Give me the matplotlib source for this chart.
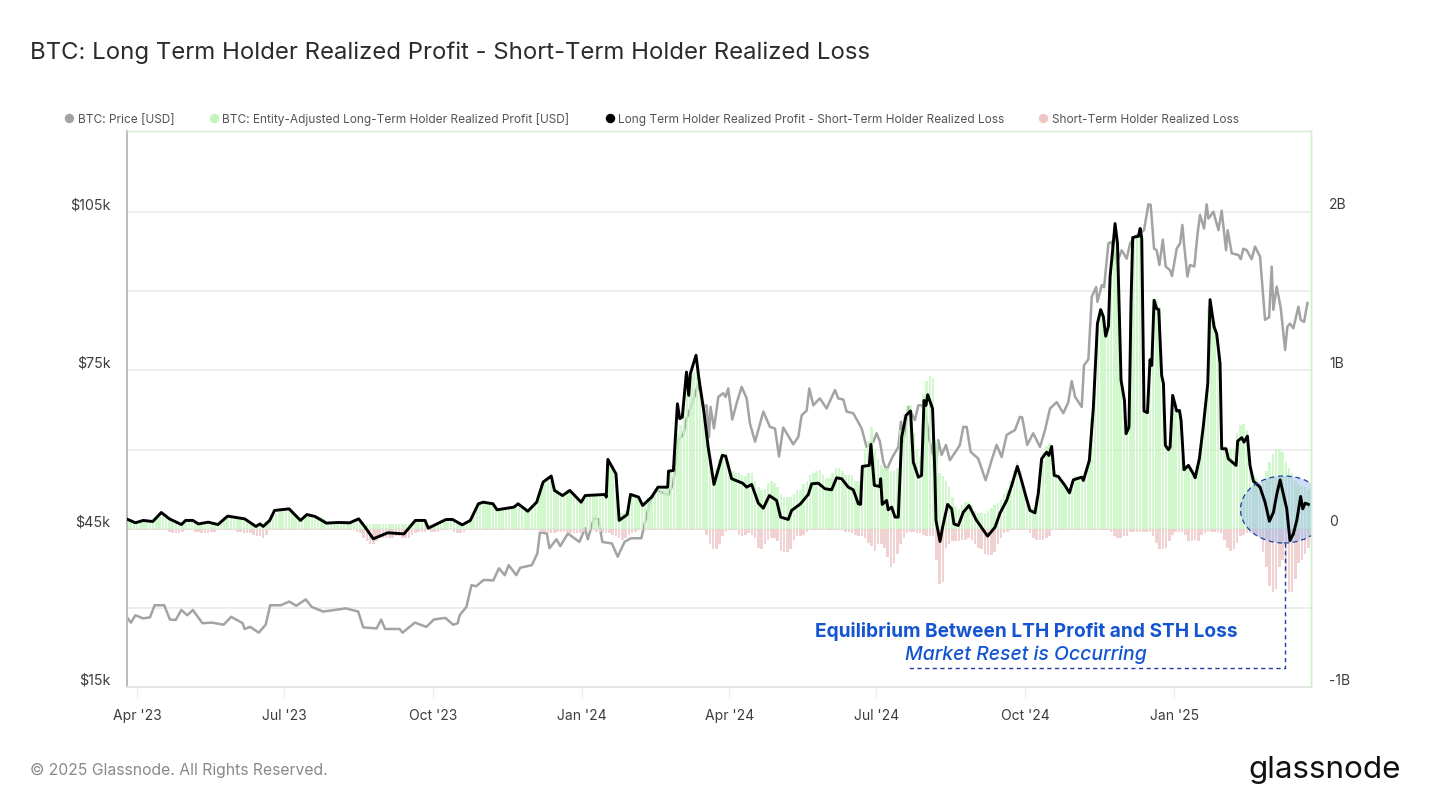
import numpy as np
import matplotlib
matplotlib.use("Agg")
import matplotlib.pyplot as plt
import matplotlib.dates as mdates
from matplotlib.lines import Line2D
from matplotlib.patches import Ellipse
from matplotlib.transforms import ScaledTranslation

plt.rcParams['font.family'] = ['Inter', 'DejaVu Sans']

# days are counted from 1 Apr 2023
price_days = [-5.7,-3.8,-1,3.8,8,10.9,16.8,20.3,23.9,27.4,31,34.5,40.4,46.4,53.5,58.2,65.3,66.5,70,75.2,79.5,82.3,88.9,94.1,98.4,104.3,107.9,115,129.1,136.7,139.8,148.1,150.9,153.3,162.3,164.1,171.7,178.8,183.5,190.6,195.4,198.2,199.4,203.6,206.7,209.6,214.3,220.2,223.7,227.3,229.7,234.4,236.8,244,247.4,249,253.3,254.9,259.2,261.6,266.3,273.4,277,278.6,282.4,285.2,287.6,293.5,297.1,301.3,305.3,311.7,314.8,317,321.1,328.4,331.4,334.5,337.6,339.7,344.8,346.9,350,352,353.5,354.5,356.6,359.3,362.3,363.8,365.4,367.9,370.6,373.7,376.8,378.8,382,387.1,391.2,394.3,396.8,399.4,405.6,408.7,410.8,413.9,415.5,418,421,422.1,426.2,431.4,433.4,436.5,438.6,442.7,447.9,450.9,455.1,457.1,459.2,461.2,463.3,466.4,470.5,472.2,473.6,476.7,480.8,482.9,485.4,488,489.7,493.8,495.2,497.3,500,502.4,506.6,508.6,510.7,512.8,515.2,519.9,524.5,528.2,531.3,534.4,537.5,542.6,545.7,547.1,550.2,553.9,558.1,561.2,564.3,568.4,572.5,575.6,577.7,579.8,583.9,585.3,588,590.1,592.8,593.6,596.3,597.7,600.4,602.4,605.5,608.6,611.7,613.8,616.9,620,622.4,625.1,626.5,628.6,630.2,631.9,634,635.8,638.5,639.7,642.6,644.7,646.1,647.1,649.2,650.8,653.5,655.4,657,659.5,661.1,662.2,665.3,668.4,670.4,673.1,674.1,676.6,680.7,682.2,683.8,685.9,688.9,691,694.1,697.2,699.7,701.3,702.3,704.4,706.9,709.6,711,712.6,714.7,717.8,719.2,721.3,723.4]
price_k = [28,27.2,28.6,28,28.2,30.5,30.5,27.8,27.7,29.6,28.6,29.6,27.1,27.2,26.8,28.3,27.1,26,26.4,25.3,26.8,30.5,30.5,31.2,30.4,31.6,30.2,29.3,29.9,29.3,26.3,26.1,27.8,26,26,25.3,27.2,26.4,27.8,28.1,26.8,27.1,28.6,30.2,34.3,34.1,35.3,35.2,37.5,36.2,38.1,36.2,37.6,38.1,40.3,44.3,44.1,41.3,43,41.7,44.1,42.5,45.1,43,47,46.8,42.5,42.2,39.7,42.5,43.2,43.2,47.3,50.1,52.3,51.4,53.6,61.8,62.8,65.9,70.3,72.5,68.1,68.4,62.4,68.1,64,70,70.7,70,71.6,65.7,68.8,71.9,69.7,65,61.5,67.2,64.3,64,58.7,64.2,61,62.4,66.5,67.4,71.6,68.4,69.4,69.7,67.8,71.3,69.7,69.5,67.2,66.9,64,60.5,61.5,63.1,61.5,57.7,56.1,58.3,60.5,65.3,61.5,68.1,65.6,68.4,68.4,65.6,61.8,56.8,61.8,59,60.9,58,59.9,60.9,64.3,64.3,59.6,58.3,54.2,58,60.9,58.6,62.8,63.7,66.2,66.1,60.9,63.1,60.5,63.7,67.8,69,66.9,69,73,70,68.1,76,77.1,89,90.8,88,91.2,90.8,99.1,99.4,95.3,97.8,96.2,99.1,100.4,101,101.6,106.5,106.4,98.1,97.8,95,99.8,94.7,94,92.9,98.1,99.1,102.6,99.1,92.8,95,94.7,100.7,104.5,101.9,106.5,103.8,105.1,101.6,105.3,97.8,101.6,97.2,96.9,96.1,98.1,97.8,96.1,98.5,96.6,84.6,85.1,94.7,86.5,90.9,86.8,78.9,83.3,83.9,83,87.1,84.6,84.2,87.8]

net_days = [-5.7,-1,3.8,9.7,15,20,27.4,30,34.5,38,44,50,56,66.5,73.5,76,78,82,85,94,101,105,110,117,124,131.5,137,141,146,155,165,172,178,180,191,195,201,206,211,214,220,222.5,233,235.5,241.5,247,251,256,258,263,267.5,274.5,277,289.5,290,291,296,298,303,305,310,312.5,318,322,328,328.5,331.5,334,335.4,337,339.6,341,342,345.5,347.3,350.4,353,356.6,359.9,361.7,363.8,367.5,374.3,376.8,379.9,384,387.1,390.8,395.3,397.8,402.5,404.6,410.1,414.9,417,421,425.2,429.3,432.4,435.5,439.6,442.7,445.8,447.2,448.3,452.6,453.6,455.7,459.2,459.6,460.6,463.3,464.3,466.4,468.5,470.5,472.6,475.3,478.1,479.8,482.9,484.9,486.4,487.6,488.7,491.7,493.2,493.8,496.3,497.9,501,503.5,504.9,507.6,510.7,514.2,518.9,525.7,530.3,533.4,537.5,540.6,544.1,546.7,549.8,551.9,555,557,559.1,562.2,563.6,565.3,566.9,569.4,573.5,576.3,578.7,583.9,584.9,588.6,591.1,592.1,593.6,595.6,597.3,598.7,600.4,601.4,602.8,604.5,606,608.2,610.3,611.3,613.1,614.4,615.4,619,620,621,622.4,624.5,626.1,627.2,628.6,630.2,631.5,633.3,634.4,635.6,637.5,638.5,640.1,642.6,644.3,645.3,647.1,649.8,652.9,654,656.6,659.1,661.8,663.2,665.7,667.3,669.4,670.4,673.1,674.5,679.3,680.3,682.8,684.2,686.3,687.9,690,694.1,697.2,699.9,702.4,704.5,706.5,708.5,710.6,712.6,714.7,716.8,719.2,720.5,722,724]
net_b = [.057,.036,.051,.044,.101,.061,.025,.051,.051,.029,.04,.025,.078,.061,.013,.029,.013,.051,.114,.124,.051,.088,.076,.034,.038,.036,.061,.008,-.065,-.027,-.034,.051,.051,.002,.057,.057,.023,.051,.156,.166,.156,.118,.135,.156,.109,.166,.293,.331,.24,.208,.24,.166,.208,.215,.198,.436,.345,.051,.088,.215,.198,.145,.198,.261,.261,.362,.366,.787,.693,.703,.987,.84,.977,1.093,.945,.735,.514,.278,.398,.461,.457,.314,.286,.261,.278,.16,.128,.208,.177,.072,.057,.114,.156,.215,.282,.286,.251,.244,.32,.314,.261,.244,.156,.152,.392,.398,.531,.272,.265,.314,.152,.177,.118,.135,.072,.072,.577,.714,.741,.419,.324,.335,.808,.777,.844,.756,.324,.051,-.082,.008,.152,.124,.029,.019,.103,.145,.051,-.048,.008,.097,.177,.272,.392,.303,.187,.114,.099,.219,.44,.482,.461,.518,.335,.328,.272,.225,.307,.324,.303,.429,.766,.977,1.293,1.381,1.335,1.213,1.276,1.587,1.735,1.924,1.798,.935,.808,.598,.64,1.44,1.836,1.844,1.893,1.829,.741,.731,1.065,1.029,1.44,1.387,1.381,.966,.914,.524,.497,.514,.84,.741,.745,.682,.371,.398,.345,.32,.44,.651,.914,1.444,1.272,1.229,1.04,.503,.503,.44,.398,.552,.573,.545,.583,.398,.299,.261,.166,.046,.103,.219,.307,.219,.124,-.076,-.034,.051,.202,.124,.16,.152]

# two-day bars, in hundredths of a billion USD
lth_profit_cb = [6,5,4,5,5,5,5,5,5,7,
 10,10,8,7,5,4,3,4,5,5, 5,5,3,3,4,4,4,3,3,5, 7,8,8,7,7,6,6,5,4,3, 3,3,3,5,6,7,9,11,11,12,
 12,11,9,7,6,7,9,8,8,8, 7,6,5,4,5,5,5,5,4,5, 6,5,4,2,3,3,3,3,3,3, 3,3,3,3,3,3,3,3,3,5,
 5,5,5,3,2,2,2,3,4,6, 6,5,4,3,3,4,5,10,15,16, 17,16,16,16,13,12,12,12,13,13,
 15,15,13,11,12,14,16,22,28,30, 32,30,26,25,22,22,24,23,22,20, 17,20,21,21,21,21,21,21,24,
 42,40,35,10,10,11,15,22,20,20, 17,17,19,21,25,27,27,27,27,36, 38,60,65,80,90,95,98,100,95,80,
 60,45,35,38,44,48,47,42,36,35, 35,34,33,35,35,30,26,24,25,29, 30,29,26,22,20,20,20,22,24,24,
 28,30,34,35,36,37,34,32,32,35, 38,38,36,34,34,34,30,30,40,50, 55,64,50,44,40,38,38,36,36,38,
 62,72,77,78,60,50,45,85,93,96, 95,
 55,35,33,30,26,20,14,12,15,17, 17,15,11,10,10,10,11,13,15,16, 18,22,25,30,37,42,36,26,20,15,
 13,20,38,48,52,54,42,34,33,29, 27,25,30,33,33,31,36,43,70,100, 130,138,125,130,170,190,175,100,80,65,
 140,184,184,185,80,75,105,140,145,140, 95,55,52,85,80,75,45,40,40,37, 34,42,58,75,140,140,130,115,55,52,
 48,50,50,60,65,66,62,42,34,32, 28,30,36,42,47,50,50,48,42,38, 35,30,28,27,26,25]
sth_loss_cb = [1,1,1,1,1,1,1,1,1,1,
 1,1,1,2,3,3,3,2,1,1, 1,2,2,3,3,3,2,2,1,1, 1,1,1,1,2,2,3,3,3,4, 5,5,6,4,1,1,1,1,1,1,
 1,1,1,1,1,1,1,1,1,1, 1,1,1,1,1,1,1,1,1,1, 1,2,3,6,8,10,10,8,6,6, 6,6,6,5,5,6,6,6,4,3,
 2,2,2,1,2,2,2,1,1,1, 1,2,3,3,2,1,1,1,1,1, 1,1,1,1,1,1,1,1,1,1,
 1,1,1,1,1,1,1,1,2,2, 3,3,3,2,2,2,2,3,3,3, 3,2,1,1,1,2,2,3,3,
 3,4,5,6,7,6,4,3,2,1, 1,1,1,1,1,1,1,1,1,1, 1,1,1,1,1,1,1,1,1,1,
 4,10,13,13,10,5,2,1,1,1, 4,5,4,3,4,6,12,13,10,7, 6,6,8,14,15,15,13,7,5,5,
 4,2,1,1,1,1,1,1,1,1, 1,1,1,2,2,3,4,5,5,6, 9,11,14,10,10,12,18,24,22,16,
 10,6,3,2,2,3,3,4,5,5, 5,20,35,34,12,10,8,8,8,7, 7,6,7,10,12,13,16,17,17,15,
 10,6,3,2,1,1,1,1,1,1, 3,6,7,7,7,6,5,1,1,1, 1,1,1,1,1,1,1,1,1,1,
 1,1,1,1,1,2,5,6,6,5, 5,2,2,2,2,2,2,2,5,9, 13,13,12,8,4,2,2,2,4,8,
 8,7,8,4,3,2,2,2,2,3, 7,12,14,13,9,5,4,3,3,3, 4,6,15,24,36,40,38,24,20,30,
 40,40,32,22,20,16,12]
assert len(lth_profit_cb) == len(sth_loss_cb) == 366, (len(lth_profit_cb), len(sth_loss_cb))

tick_dates = ['2023-04-01','2023-07-01','2023-10-01','2024-01-01','2024-04-01','2024-07-01','2024-10-01','2025-01-01']
tick_labels = ["Apr '23","Jul '23","Oct '23","Jan '24","Apr '24","Jul '24","Oct '24","Jan '25"]
price_ticks = [15, 45, 75, 105]
price_labels = ['$15k', '$45k', '$75k', '$105k']
net_ticks = [-1, 0, 1, 2]
net_labels = ['-1B', '0', '1B', '2B']

W, H = 1431, 805
base = mdates.date2num(np.datetime64('2023-04-01'))
bar_x = base + (-6 + 2 * np.arange(len(lth_profit_cb)))

fig = plt.figure(figsize=(W/100, H/100), dpi=100, facecolor='white')
L, R, T, B = 127, 1311, 131, 687
ax = fig.add_axes([L/W, 1-B/H, (R-L)/W, (B-T)/H])
ax2 = ax.twinx()
ax2.patch.set_visible(False)

ax.set_xlim(base-6.2, base+725.6)
ax.set_ylim(15, 120.4)
ax2.set_ylim(-1, 2.508)

GRID = '#eeeeee'
ax.set_yticks(price_ticks, price_labels)
ax.set_yticks([30, 60, 90], minor=True)
ax.grid(True, axis='y', which='both', color=GRID, lw=1.4, zorder=0)
ax.set_axisbelow(True)
ax.tick_params(axis='y', which='both', length=0)
ax.tick_params(axis='y', which='major', pad=12, labelsize=10.3, labelcolor='#3d3d3d')
ax2.set_yticks(net_ticks, net_labels)
ax2.tick_params(axis='y', length=0, pad=13, labelsize=10, labelcolor='#3d3d3d')

shift = ScaledTranslation(0, 8/100, fig.dpi_scale_trans)
for lab in ax.get_yticklabels() + ax2.get_yticklabels():
    lab.set_transform(lab.get_transform() + shift)

ax.set_xticks(mdates.date2num(np.array(tick_dates, dtype='datetime64[D]')), tick_labels)
ax.tick_params(axis='x', length=7.5, width=1, color='#eeeeee', pad=8, labelsize=10, labelcolor='#3d3d3d')

for a in (ax, ax2):
    a.spines['top'].set_color('#dcefdc')
    a.spines['right'].set_color('#cdf3c8')
    a.spines['left'].set_color('#bcbcbc')
    a.spines['bottom'].set_color('#e4e4e4')
    a.spines['left'].set_linewidth(1.4)
    a.spines['bottom'].set_linewidth(1.4)
    a.spines['right'].set_linewidth(1.0)
    a.spines['top'].set_linewidth(1.0)

ax.plot(base + np.array(price_days), price_k, color='#a3a3a3', lw=1.8, zorder=3, solid_joinstyle='round')
ax2.bar(bar_x, np.array(lth_profit_cb)/100, width=1.55, color='#c6f6c0', alpha=0.8, lw=0, zorder=2)
ax2.bar(bar_x, -np.array(sth_loss_cb)/100, width=1.55, color='#f0cdcd', alpha=0.9, lw=0, zorder=2)
ax2.plot(base + np.array(net_days), net_b, color='black', lw=2.1, zorder=4, solid_joinstyle='round')

# annotation: circled reset zone with leader line
ta = ax2.transAxes
def axx(px): return (px - L) / (R - L)
def axy(py): return (B - py) / (B - T)
ax2.add_patch(Ellipse((axx(1284), axy(509.5)), 87/(R-L), 67/(B-T), transform=ta, facecolor='#8fb0e8', alpha=0.42, zorder=3, lw=0))
ax2.add_patch(Ellipse((axx(1284), axy(509.5)), 87/(R-L), 67/(B-T), transform=ta, fill=False, edgecolor='#1c3f9e', ls=(0, (4, 3)), lw=0.9, zorder=6))
ax2.plot([axx(1284.5), axx(1284.5), axx(907)], [axy(543), axy(668), axy(668)], transform=ta, color='#1c3f9e', ls=(0, (3, 2.5)), lw=1.0, zorder=6)

BLUE = '#1555cf'
fig.text(1026/W, 1-631.5/H, 'Equilibrium Between LTH Profit and STH Loss', color=BLUE, fontsize=13.75, fontweight='bold', ha='center', va='center')
fig.text(1026/W, 1-654.5/H, 'Market Reset is Occurring', color=BLUE, fontsize=14, fontstyle='italic', fontweight='medium', ha='center', va='center')

# header and footer
fig.text(30/W, 1-52.5/H, 'BTC: Long Term Holder Realized Profit - Short-Term Holder Realized Loss', color='#2b2b2b', fontsize=17.25, ha='left', va='center')
legend_names = ['BTC: Price [USD]', 'BTC: Entity-Adjusted Long-Term Holder Realized Profit [USD]',
                'Long Term Holder Realized Profit - Short-Term Holder Realized Loss', 'Short-Term Holder Realized Loss']
legend_colors = ['#a3a3a3', '#c5f5bf', '#000000', '#efc6c6']
legend_x = [69, 214, 610, 1043]
for name, col, x in zip(legend_names, legend_colors, legend_x):
    fig.add_artist(Line2D([x/W], [1-118.5/H], marker='o', ms=6.8, mfc=col, mec='none', ls='', transform=fig.transFigure))
    fig.text((x+8.5)/W, 1-122.8/H, name, color='#555555', fontsize=8.55, ha='left', va='baseline')
fig.text(30/W, 1-770/H, '© 2025 Glassnode. All Rights Reserved.', color='#8a8a8a', fontsize=11.35, ha='left', va='center')
fig.text(1248/W, 1-778/H, 'glassnode', color='#111111', fontsize=22.6, fontweight='normal', ha='left', va='baseline')

fig.savefig('out.png', dpi=100, facecolor='white')
